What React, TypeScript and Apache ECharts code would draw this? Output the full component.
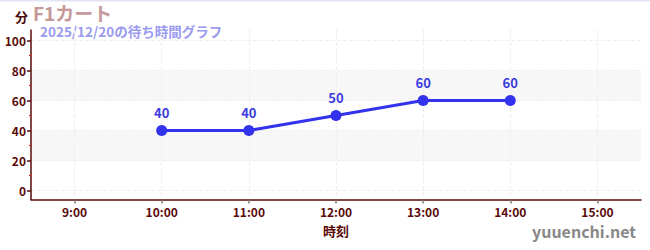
import React, { useEffect, useRef } from "react";
import * as echarts from "echarts";

const hours = [10, 11, 12, 13, 14];
const waits = [40, 40, 50, 60, 60];
const xTickHours = [9, 10, 11, 12, 13, 14, 15];
const yTicks = [0, 20, 40, 60, 80, 100];
const yMinorTicks = [10, 30, 50, 70, 90];
const titleText = "F1カート";
const subtitleText = "2025/12/20の待ち時間グラフ";
const yName = "分";
const xName = "時刻";
const watermark = "yuuenchi.net";

const FONT = "'Noto Sans CJK JP', 'Noto Sans', sans-serif";
const AXIS_COLOR = "#5a0a0a";

export default function App() {
  const ref = useRef<HTMLDivElement>(null);
  useEffect(() => {
    if (!ref.current) return;
    const chart = echarts.init(ref.current, null, { renderer: "svg" });
    chart.setOption({
      animation: false,
      backgroundColor: "#ffffff",
      textStyle: { fontFamily: FONT },
      grid: { left: 31, right: 9, top: 30, bottom: 50.5, containLabel: false },
      xAxis: {
        type: "value",
        min: 8.5,
        max: 15.5,
        axisLine: { onZero: false, lineStyle: { color: AXIS_COLOR, width: 1.5 } },
        axisTick: { customValues: xTickHours, length: 4, lineStyle: { color: "#777", width: 1.5 } },
        axisLabel: {
          customValues: xTickHours,
          formatter: (v: number) => `${v}:00`,
          color: AXIS_COLOR,
          fontWeight: "bold",
          fontSize: 12,
          fontFamily: FONT,
          margin: 6,
        },
        splitLine: { show: true, lineStyle: { color: "#eeeeee", type: "dashed" } },
        name: xName,
        nameLocation: "middle",
        nameGap: 24,
        nameTextStyle: { color: AXIS_COLOR, fontWeight: "bold", fontSize: 13, fontFamily: FONT },
      },
      yAxis: [
        {
          type: "value",
          min: -6,
          max: 107,
          position: "left",
          axisLine: { show: true, onZero: false, lineStyle: { color: AXIS_COLOR, width: 1.5 } },
          axisTick: { show: true, customValues: yTicks, length: 4, lineStyle: { color: AXIS_COLOR, width: 1.5 } },
          axisLabel: {
            customValues: yTicks,
            color: AXIS_COLOR,
            fontWeight: "bold",
            fontSize: 12,
            fontFamily: FONT,
            margin: 5,
          },
          splitLine: { show: true, lineStyle: { color: "#eeeeee", type: "dashed" } },
          splitArea: { show: true, areaStyle: { color: ["rgba(255,255,255,0)", "#f7f7f7"] } },
        },
        {
          type: "value",
          min: -6,
          max: 107,
          position: "left",
          axisLine: { show: false, onZero: false },
          axisTick: { show: true, customValues: yMinorTicks, length: 2, lineStyle: { color: "#dd1111", width: 1 } },
          axisLabel: { show: false, customValues: yMinorTicks },
          splitLine: { show: false },
        },
      ],
      graphic: [
        { type: "rect", shape: { x: 0, y: 0, width: 650, height: 1.5 }, style: { fill: "#e4e4f6" } },
        {
          type: "text",
          left: 15,
          top: 9,
          style: { text: yName, fill: "#4a0a0a", font: `bold 13px ${FONT}`, lineHeight: 14 },
        },
        {
          type: "text",
          left: 33,
          top: 3,
          style: { text: titleText, fill: "#c59999", font: `bold 19px ${FONT}`, lineHeight: 18 },
        },
        {
          type: "text",
          left: 40,
          top: 24.5,
          style: { text: subtitleText, fill: "#9b9bf0", font: `bold 13.5px ${FONT}`, lineHeight: 13.5 },
        },
        {
          type: "text",
          right: 14,
          top: 223,
          style: { text: watermark, fill: "#888888", font: `bold 16px ${FONT}` },
        },
      ],
      series: [
        {
          type: "line",
          yAxisIndex: 0,
          data: hours.map((h, i) => [h, waits[i]]),
          symbol: "circle",
          symbolSize: 11,
          lineStyle: { color: "#3333ee", width: 3 },
          itemStyle: { color: "#3333ee" },
          label: {
            show: true,
            position: "top",
            distance: 6,
            color: "#3b3bdd",
            fontWeight: "bold",
            fontSize: 13,
            fontFamily: FONT,
          },
        },
      ],
    });
    return () => chart.dispose();
  }, []);
  return (
    <div
      ref={ref}
      style={{ position: "fixed", left: 0, top: 0, width: 650, height: 250 }}
    />
  );
}
